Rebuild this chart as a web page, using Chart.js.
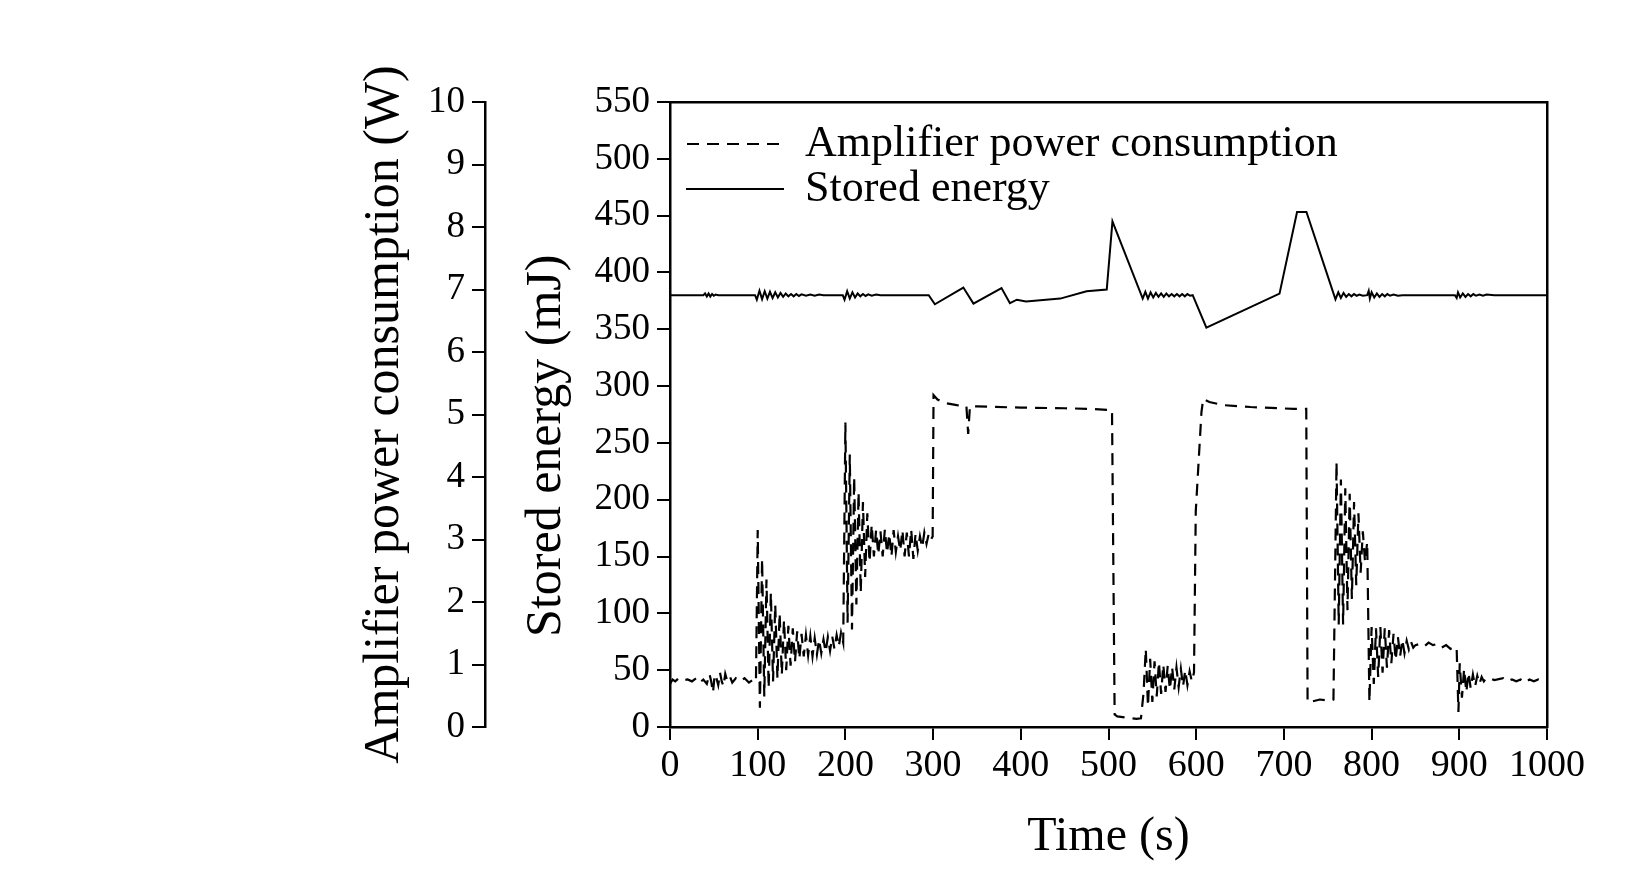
<!DOCTYPE html>
<html>
<head>
<meta charset="utf-8">
<script src="https://cdn.jsdelivr.net/npm/chart.js@4/dist/chart.umd.min.js"></script>
<style>
  html, body { margin: 0; padding: 0; background: #fff; }
  canvas { display: block; }
</style>
</head>
<body>
<canvas id="c" width="1650" height="873"></canvas>
<script>
// ---- Data ----
const seriesNames = ['Amplifier power consumption', 'Stored energy'];
const axisTitles = { time: 'Time (s)', power: 'Amplifier power consumption (W)', energy: 'Stored energy (mJ)' };

const xRange = [0, 1000];      // s, tick step 100
const powerRange = [0, 10];    // W, tick step 1
const energyRange = [0, 550];  // mJ, tick step 50

// Amplifier power consumption (W)
const powerTime = [
  0,3,6,10,15,20,25,30,34,38,42,45,47,49,51,53,55,57,59,61,63,65,68,71,75,80,85,90,95,98,
  100,102.5,105,107.5,110,112.5,115,117.5,120,122.5,125,127.5,130,132.5,135,137.5,140,142.5,145,147.5,
  150,152.5,155,157.5,160,162.5,165,167.5,170,172.5,175,177.5,180,182.5,185,187.5,190,192.5,195,197.5,
  200,202.5,205,207.5,210,212.5,215,217.5,220,222.5,225,227.5,230,232.5,235,237.5,240,242.5,245,247.5,
  250,252.5,255,257.5,260,262.5,265,267.5,270,272.5,275,277.5,280,282.5,285,287.5,290,292.5,295,297.5,
  299.5,300.5,305,315,327,338,340,342,350,400,450,480,504,507,510,520,532,537,
  540,542.5,545,547.5,550,552.5,555,557.5,560,562.5,565,567.5,570,572.5,575,577.5,580,582.5,585,587.5,590,592.5,595,597.5,
  599.5,606,608,615,631,662,711,725.5,727,730,741,753,756.5,
  760,762.5,765,767.5,770,772.5,775,777.5,780,782.5,785,787.5,790,792.5,795,797.5,
  800,802.5,805,807.5,810,812.5,815,817.5,820,822.5,825,827.5,830,832.5,835,837.5,840,842.5,845,847.5,850,
  855,860,865,870,875,880,885,890,895,897,
  899,900.5,903,905.5,908,910.5,913,915.5,918,920.5,923,925.5,928,930.5,
  935,940,950,955,960,965,970,975,980,985,990,995,1000
];
const powerW = [
  0.69,0.76,0.73,0.78,0.75,0.76,0.73,0.78,0.71,0.76,0.69,0.85,0.73,0.55,0.84,0.78,0.67,0.87,0.73,0.65,0.85,0.75,0.82,0.71,0.78,0.73,0.78,0.71,0.76,0.73,
  3.15,0.31,2.69,0.49,2.36,0.62,2.15,0.73,1.96,0.78,1.82,0.84,1.71,0.91,1.62,0.98,1.58,1.04,1.53,1.09,
  1.49,1.13,1.47,1.15,1.45,1.13,1.42,1.16,1.40,1.18,1.40,1.20,1.44,1.22,1.45,1.25,1.47,1.29,1.51,1.35,
  4.87,1.67,4.36,1.56,4.00,1.96,3.76,2.15,3.60,2.40,3.42,2.64,3.24,2.73,3.15,2.76,3.13,2.73,3.16,2.78,
  3.09,2.73,3.15,2.80,3.05,2.82,3.15,2.73,3.11,2.73,3.16,2.69,3.09,2.82,3.05,2.87,3.11,2.93,3.09,3.00,
  3.05,5.31,5.24,5.18,5.15,5.13,4.69,5.13,5.13,5.11,5.10,5.09,5.07,0.20,0.17,0.15,0.13,0.14,
  0.55,1.25,0.33,1.09,0.40,1.05,0.49,1.04,0.53,1.00,0.56,0.98,0.60,0.96,0.60,0.95,0.64,0.93,0.65,0.91,0.67,0.89,0.73,0.87,
  3.45,5.04,5.25,5.20,5.15,5.12,5.09,5.09,0.40,0.40,0.44,0.42,0.44,
  4.24,1.64,3.96,1.64,3.82,1.87,3.73,2.05,3.60,2.27,3.42,2.47,3.13,2.64,2.96,0.40,
  1.60,0.69,1.58,0.80,1.60,0.87,1.58,0.95,1.55,1.02,1.49,1.07,1.44,1.13,1.40,1.18,1.38,1.24,1.36,1.27,1.31,
  1.33,1.29,1.35,1.31,1.33,1.27,1.31,1.25,1.29,1.25,
  0.24,1.02,0.47,0.93,0.56,0.87,0.62,0.84,0.65,0.82,0.69,0.80,0.73,0.78,
  0.78,0.75,0.78,0.73,0.76,0.73,0.76,0.71,0.76,0.73,0.76,0.73,0.75
];

// Stored energy (mJ)
const energyTime = [
  0,38,40,42,44,46,48,50,52,55,
  97,99,102,105,108,111,114,117,120,123,126,129,132,135,138,141,144,147,150,155,160,165,170,175,
  197,199,202,205,208,211,214,217,220,223,226,230,235,240,295,
  302,334.5,346,378,387.6,395.5,406,445,475,498,504.5,539,
  542,545,548,551,554,557,560,563,566,569,572,575,578,581,584,587,590,593,596,
  611.6,695,715,725.7,758.8,762,765,768,771,774,777,780,783,786,790,795,796.7,798,
  800,803,806,809,812,815,818,821,825,830,835,895,897,898.5,901,904,907,910,913,916,919,923,927,931,940,1000
];
const energyMJ = [
  380,380,381.5,378.8,381.5,378.8,381,379.5,380.5,380,
  380,376,384,376.5,383.5,377,383,377.5,382.5,378,382,378.5,381.5,379,381,379,381,379.3,380.7,379.5,380.5,379.5,380.5,380,
  380,376,383.5,377,382.5,378,381.5,379,381,379.3,380.7,379.5,380.5,380,380,
  372,386.7,372.6,386.3,373,376,374.5,377,383.4,384.9,445,377,
  383,377,382.5,378,382,378.5,381.5,378.5,381.5,379,381,379,381,379,381,379,381,379.5,380,
  351.4,381.4,453.2,453.2,376.4,382.5,377.5,382,378.5,381,379,381,379.5,380.5,379.5,380,383.7,377,
  382.5,378,381.5,378.5,381,379,381,379.5,380.5,379.5,380,380,377.5,382.5,378,381.5,378.5,381,379,381,379.5,380.5,379.5,380.5,380,380
];

// ---- Chart ----
const FONT = "'Liberation Serif', 'Times New Roman', serif";
Chart.defaults.color = '#000';
Chart.defaults.font.family = FONT;

const legendPlacer = {
  id: 'legendPlacer',
  beforeDraw(chart) {
    const lg = chart.legend;
    if (!lg) return;
    const w = lg.width, h = lg.height;
    lg.left = 686; lg.top = 121;
    lg.right = lg.left + w; lg.bottom = lg.top + h;
  }
};

const axisGrid = { drawOnChartArea: false, drawTicks: true, tickLength: 13, tickWidth: 2, tickColor: '#000', color: '#000', lineWidth: 2 };
const axisBorder = { display: true, color: '#000', width: 2.5 };
const plainNumber = (v) => String(v);

new Chart(document.getElementById('c'), {
  type: 'line',
  data: {
    datasets: [
      {
        label: seriesNames[0],
        data: powerTime.map((t, i) => ({ x: t, y: powerW[i] })),
        yAxisID: 'yW',
        borderColor: '#000', backgroundColor: 'rgba(0,0,0,0)',
        borderWidth: 2.2, borderDash: [12, 8],
        pointRadius: 0, tension: 0, fill: false
      },
      {
        label: seriesNames[1],
        data: energyTime.map((t, i) => ({ x: t, y: energyMJ[i] })),
        yAxisID: 'yE',
        borderColor: '#000', backgroundColor: 'rgba(0,0,0,0)',
        borderWidth: 2,
        pointRadius: 0, tension: 0, fill: false
      }
    ]
  },
  options: {
    responsive: false,
    animation: false,
    devicePixelRatio: 1,
    layout: { padding: { left: 300, right: 103, top: 102, bottom: 0 } },
    plugins: {
      tooltip: { enabled: false },
      legend: {
        position: 'chartArea',
        align: 'start',
        labels: {
          usePointStyle: false,
          boxWidth: 96,
          boxHeight: 0.01,
          padding: 1,
          color: '#000',
          font: { family: FONT, size: 44 }
        }
      }
    },
    scales: {
      x: {
        type: 'linear', position: 'bottom', min: xRange[0], max: xRange[1],
        ticks: { stepSize: 100, autoSkip: false, maxRotation: 0, padding: 3, color: '#000', font: { family: FONT, size: 38 }, callback: plainNumber },
        grid: axisGrid, border: axisBorder,
        title: { display: true, text: axisTitles.time, color: '#000', font: { family: FONT, size: 48 }, padding: { top: 0, bottom: 7 } },
        afterFit(s) { s.height = 146; }
      },
      yE: {
        type: 'linear', position: 'left', weight: 0, min: energyRange[0], max: energyRange[1],
        ticks: { stepSize: 50, padding: 7, color: '#000', font: { family: FONT, size: 37 }, callback: plainNumber },
        grid: axisGrid, border: axisBorder,
        title: { display: true, text: axisTitles.energy + '     ', color: '#000', font: { family: FONT, size: 50 }, padding: { top: 32, bottom: 0 } },
        afterFit(s) { s.width = 185; }
      },
      yW: {
        type: 'linear', position: 'left', weight: 10, min: powerRange[0], max: powerRange[1],
        ticks: { stepSize: 1, padding: 7, color: '#000', font: { family: FONT, size: 37 }, callback: plainNumber },
        grid: axisGrid, border: axisBorder,
        title: { display: true, text: axisTitles.power, color: '#000', font: { family: FONT, size: 50 }, padding: { top: 55, bottom: 0 } },
        afterFit(s) { s.width = 185; }
      },
      xTop: {
        type: 'linear', position: 'top', min: 0, max: 1,
        ticks: { display: false },
        grid: { display: true, drawOnChartArea: false, drawTicks: false },
        border: axisBorder,
        afterFit(s) { s.height = 0; }
      },
      yRight: {
        type: 'linear', position: 'right', min: 0, max: 1,
        ticks: { display: false },
        grid: { display: true, drawOnChartArea: false, drawTicks: false },
        border: axisBorder,
        afterFit(s) { s.width = 0; }
      }
    }
  },
  plugins: [legendPlacer]
});
</script>
</body>
</html>
